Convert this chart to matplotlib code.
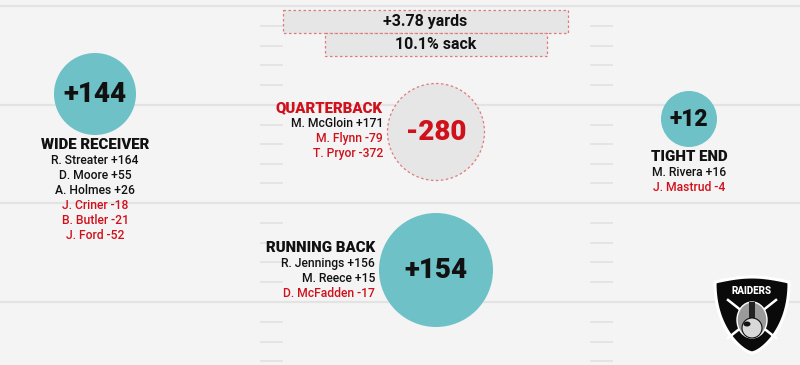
import numpy as np
import matplotlib
matplotlib.use("Agg")
import matplotlib.pyplot as plt
from matplotlib.patches import Circle, Rectangle, Polygon, Ellipse

plt.rcParams['font.family'] = ['Roboto', 'DejaVu Sans']

# data
positions = ['WIDE RECEIVER', 'QUARTERBACK', 'TIGHT END', 'RUNNING BACK']
totals = [144, -280, 12, 154]
wr_players = ['R. Streater', 'D. Moore', 'A. Holmes', 'J. Criner', 'B. Butler', 'J. Ford']
wr_values = [164, 55, 26, -18, -21, -52]
qb_players = ['M. McGloin', 'M. Flynn', 'T. Pryor']
qb_values = [171, -79, -372]
te_players = ['M. Rivera', 'J. Mastrud']
te_values = [16, -4]
rb_players = ['R. Jennings', 'M. Reece', 'D. McFadden']
rb_values = [156, 15, -17]
yards_gain = 3.78
sack_rate = 10.1

players = [wr_players, qb_players, te_players, rb_players]
values = [wr_values, qb_values, te_values, rb_values]

TEAL = '#6fc1c8'
RED = '#d0101b'
INK = '#111111'
BG = '#f4f4f4'
LINE = '#e3e3e3'
DASH = '#e07a7a'

# layout: circle centre, radius, label anchor, alignment
centres = [(95, 94), (436, 132), (689, 119), (436, 270)]
radii = [41, 48.5, 28, 57]
label_xy = [(95, 145), (383, 108), (689, 157), (375, 248)]
label_ha = ['center', 'right', 'center', 'right']
big_size = [20, 20, 16.5, 20]

fig = plt.figure(figsize=(8, 3.65), dpi=100)
fig.patch.set_facecolor(BG)
ax = fig.add_axes([0, 0, 1, 1])
ax.set_xlim(0, 800)
ax.set_ylim(365, 0)
ax.axis('off')
ax.set_facecolor(BG)

# field lines
majors = [6, 105, 203, 302, 401]
for y in majors[:4]:
    ax.plot([0, 800], [y, y], color=LINE, lw=1.6, zorder=0)
for y0, y1 in zip(majors[:-1], majors[1:]):
    for k in range(1, 5):
        y = y0 + (y1 - y0) * k / 5
        for x0 in (261, 591):
            ax.plot([x0, x0 + 21], [y, y], color=LINE, lw=1.3, zorder=0)


def fmt(v):
    return ('+%d' % v) if v > 0 else ('-%d' % abs(v))


# top boxes
ax.add_patch(Rectangle((283, 10), 285, 23, facecolor='#e6e6e6', edgecolor=DASH,
                       lw=0.9, ls=(0, (2, 2)), zorder=2))
ax.add_patch(Rectangle((325, 33), 222, 23, facecolor='#e6e6e6', edgecolor=DASH,
                       lw=0.9, ls=(0, (2, 2)), zorder=2))
ax.text(425.5, 21.5, '+%.2f yards' % yards_gain, ha='center', va='center',
        fontsize=11.5, fontweight='bold', color=INK, zorder=3)
ax.text(436, 44.5, '%.1f%% sack' % sack_rate, ha='center', va='center',
        fontsize=11.5, fontweight='bold', color=INK, zorder=3)

for i, pos in enumerate(positions):
    cx, cy = centres[i]
    neg = totals[i] < 0
    if neg:
        ax.add_patch(Circle((cx, cy), radii[i], facecolor='#e6e6e6', edgecolor=DASH,
                            lw=0.9, ls=(0, (2, 2)), zorder=2))
    else:
        ax.add_patch(Circle((cx, cy), radii[i], facecolor=TEAL, edgecolor='none', zorder=2))
    ax.text(cx, cy + 1, fmt(totals[i]), ha='center', va='center', fontsize=big_size[i],
            fontweight='black', color=RED if neg else INK, zorder=3)
    lx, ly = label_xy[i]
    ax.text(lx, ly, pos, ha=label_ha[i], va='center', fontsize=10.8,
            fontweight='black', color=RED if neg else INK, zorder=3)
    for j, (name, v) in enumerate(zip(players[i], values[i])):
        ax.text(lx, ly + 15.5 + j * 15, '%s %s' % (name, fmt(v)), ha=label_ha[i],
                va='center', fontsize=8.7, fontweight='medium',
                color=RED if v < 0 else INK, zorder=3)

# Raiders shield
t = np.linspace(0, 1, 60)
right = np.column_stack([752 + 37 * (1 - t ** 2.2) ** 0.7,
                         282 + 71 * t])
top = np.column_stack([np.linspace(715, 789, 30),
                       282 - 5 * np.sin(np.linspace(0, np.pi, 30))])
left = right[::-1].copy()
left[:, 0] = 1504 - left[:, 0]
shield = np.vstack([top, right, left])
ax.add_patch(Polygon(shield, closed=True, facecolor='#0a0a0a', edgecolor='white',
                     lw=2.2, zorder=4))
ax.text(752, 291, 'RAIDERS', ha='center', va='center', fontsize=7,
        fontweight='black', color='white', zorder=5)
ax.plot([728, 776], [300, 338], color='white', lw=1.8, zorder=5)
ax.plot([776, 728], [300, 338], color='white', lw=1.8, zorder=5)
ax.add_patch(Ellipse((752, 320), 30, 36, facecolor='#9a9a9a', edgecolor='white',
                     lw=1, zorder=6))
ax.add_patch(Rectangle((749, 302), 6, 36, facecolor='#222', zorder=7))
ax.add_patch(Ellipse((752, 328), 20, 20, facecolor='#d8d8d8', edgecolor='#111',
                     lw=0.8, zorder=8))
ax.add_patch(Ellipse((747, 324), 7, 5, facecolor='#111', zorder=9))

fig.savefig('out.png', dpi=100, facecolor=BG)
